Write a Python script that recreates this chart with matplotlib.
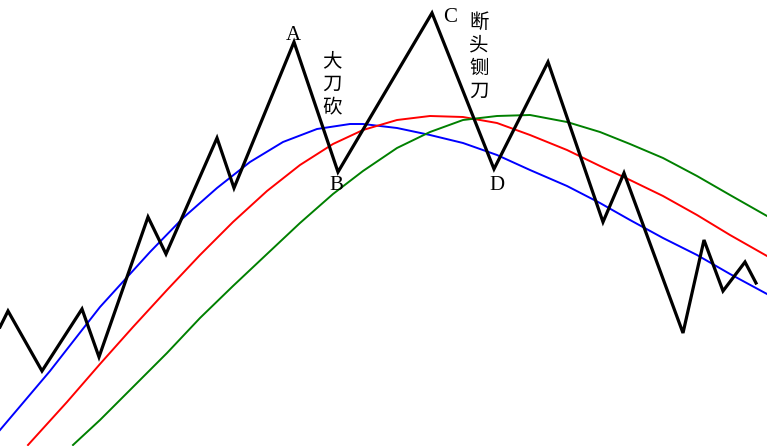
import matplotlib
matplotlib.use("Agg")
from matplotlib import pyplot as plt

# black zigzag (price) vertices (pixel space)
price_x = [0, 8, 42, 82, 99, 148, 166, 217, 234, 294, 338, 432, 494, 548, 603, 624, 683, 704, 723, 745, 756]
price_y = [327, 311, 371, 309, 357, 217, 254, 138, 188, 42, 172, 13, 169, 62, 222, 173, 333, 240, 291, 262, 283]

# moving averages
blue_x = [0, 50, 100, 150, 183, 217, 250, 283, 317, 350, 363, 397, 430, 463, 497, 530,
          567, 600, 630, 663, 697, 730, 767]
blue_y = [430, 371, 307, 252, 218, 188, 162, 142, 129, 124, 124, 128, 135, 143, 155, 170,
          186, 203, 220, 238, 255, 274, 294]

red_x = [28, 67, 100, 133, 167, 200, 233, 267, 300, 333, 363, 397, 430, 463, 497,
         530, 567, 600, 630, 663, 697, 730, 767]
red_y = [445, 402, 364, 327, 290, 255, 222, 191, 165, 144, 130, 120, 116, 117, 123,
         135, 150, 166, 180, 196, 215, 235, 256]

green_x = [73, 100, 133, 167, 200, 233, 267, 300, 333, 363, 397, 430, 463, 497, 530,
           567, 600, 630, 663, 697, 730, 767]
green_y = [445, 420, 387, 353, 318, 286, 254, 223, 194, 171, 148, 132, 120, 116, 115,
           122, 132, 144, 158, 176, 195, 216]

# point labels
point_labels = ["A", "B", "C", "D"]
point_label_x = [293, 336, 450, 497]
point_label_y = [35, 186, 17, 186]

# vertical chinese notes
notes = ["大刀砍", "断头铡刀"]
note_x = [332, 479]
note_y0 = [61, 22]
note_step = 23

fig = plt.figure(figsize=(7.67, 4.46), dpi=100)
ax = fig.add_axes([0, 0, 1, 1])
ax.set_xlim(0, 767)
ax.set_ylim(446, 0)
ax.axis("off")

ax.plot(blue_x, blue_y, color="#0000ff", linewidth=1.4)
ax.plot(red_x, red_y, color="#ff0000", linewidth=1.4)
ax.plot(green_x, green_y, color="#008000", linewidth=1.4)
ax.plot(price_x, price_y, color="black", linewidth=2.3, solid_joinstyle="miter")

for lab, x, y in zip(point_labels, point_label_x, point_label_y):
    ax.text(x, y, lab, ha="center", va="center", fontsize=15,
            family="Liberation Serif", color="black")

for note, x, y0 in zip(notes, note_x, note_y0):
    for i, ch in enumerate(note):
        ax.text(x, y0 + i * note_step, ch, ha="center", va="center",
                fontsize=14, family="Noto Sans CJK SC", color="black")

fig.savefig("out.png", dpi=100)
